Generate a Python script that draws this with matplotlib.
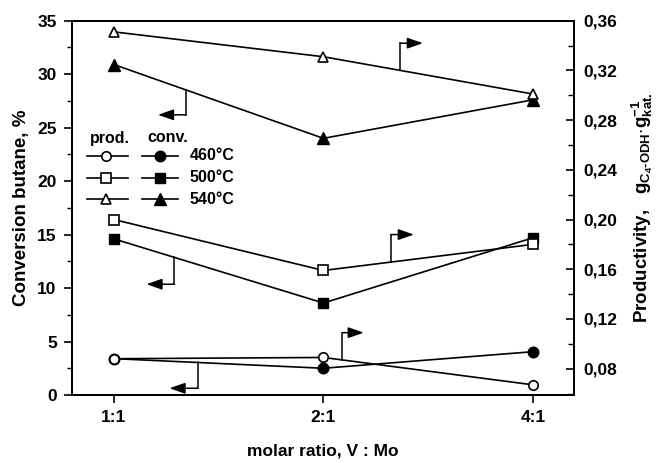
import matplotlib
matplotlib.use("Agg")
import numpy as np
import matplotlib.pyplot as plt
from matplotlib.lines import Line2D
from matplotlib.ticker import MultipleLocator, FuncFormatter

plt.rcParams['font.family'] = ['Liberation Sans', 'DejaVu Sans']
plt.rcParams['font.weight'] = 'bold'
plt.rcParams['mathtext.fontset'] = 'custom'
plt.rcParams['mathtext.rm'] = 'Liberation Sans:bold'
plt.rcParams['mathtext.it'] = 'Liberation Sans:bold'
plt.rcParams['mathtext.bf'] = 'Liberation Sans:bold'

categories = ['1:1', '2:1', '4:1']
temps = ['460°C', '500°C', '540°C']
markers = ['o', 's', '^']

conv_460 = [3.4, 2.5, 4.05]
conv_500 = [14.6, 8.6, 14.7]
conv_540 = [30.9, 24.0, 27.6]

prod_460 = [0.088, 0.089, 0.067]
prod_500 = [0.200, 0.159, 0.180]
prod_540 = [0.351, 0.331, 0.301]

conv = [conv_460, conv_500, conv_540]
prod = [prod_460, prod_500, prod_540]

LEFT_LIM = (0, 35)
RIGHT_LIM = (0.0588, 0.36)

# bracket arrows: (series index, which axis, base x, corner y [left units], tip x)
arrows = [
    (2, 'prod', 1.365, 32.9, 1.475),
    (2, 'conv', 0.345, 26.2, 0.210),
    (1, 'prod', 1.322, 15.0, 1.432),
    (1, 'conv', 0.289, 10.36, 0.155),
    (0, 'prod', 1.091, 5.83, 1.193),
    (0, 'conv', 0.401, 0.63, 0.265),
]

fig = plt.figure(figsize=(6.66, 4.63), dpi=100)
ax = fig.add_axes([72/666, 1-395/463, 502/666, 374.3/463])
ax2 = ax.twinx()

x = np.arange(len(categories))
ms_open = {'o': 6.8, 's': 7.0, '^': 7.6}
ms_fill = {'o': 7.6, 's': 7.6, '^': 8.6}
for c, p, m in zip(conv, prod, markers):
    ax.plot(x, c, color='black', lw=1.2, marker=m, ms=ms_fill[m], mfc='black', mec='black', zorder=3)
    ax2.plot(x, p, color='black', lw=1.2, marker=m, ms=ms_open[m], mfc='white', mec='black', mew=1.2, zorder=4)

ax.set_xlim(-0.2, 2.196)
ax.set_ylim(*LEFT_LIM)
ax2.set_ylim(*RIGHT_LIM)

ax.set_xticks(x)
ax.set_xticklabels(categories)
ax.yaxis.set_major_locator(MultipleLocator(5))
ax.yaxis.set_minor_locator(MultipleLocator(2.5))
ax2.set_yticks([0.08, 0.12, 0.16, 0.20, 0.24, 0.28, 0.32, 0.36])
ax2.yaxis.set_minor_locator(MultipleLocator(0.02))
ax2.yaxis.set_major_formatter(FuncFormatter(lambda v, pos: f"{v:.2f}".replace('.', ',')))

ax.tick_params(axis='both', labelsize=12.5, width=1.2, length=6, direction='out', pad=5)
ax.tick_params(axis='y', which='minor', width=1.0, length=3.5, direction='out')
ax.tick_params(axis='x', which='both', top=False)
ax2.tick_params(axis='y', labelsize=12.5, width=1.2, length=6, direction='in', pad=7)
ax2.tick_params(axis='y', which='minor', width=1.0, length=4, direction='in')
for a in (ax, ax2):
    for s in a.spines.values():
        s.set_linewidth(1.4)

ax.set_xlabel('molar ratio, V : Mo', fontsize=12.5, fontweight='bold', labelpad=13)
ax.set_ylabel('Conversion butane, %', fontsize=13.5, fontweight='bold', labelpad=5)
ax2.set_ylabel(r'Productivity,   g$_{\mathregular{C_4 \text{-} ODH}}$$\cdot$g$^{-1}_{\mathregular{kat.}}$',
               fontsize=13.5, fontweight='bold', labelpad=9)


def prod_to_left(v):
    return (v - RIGHT_LIM[0]) / (RIGHT_LIM[1] - RIGHT_LIM[0]) * (LEFT_LIM[1] - LEFT_LIM[0]) + LEFT_LIM[0]


# bracket arrows
for idx, kind, bx, cy, tx in arrows:
    if kind == 'prod':
        by = prod_to_left(np.interp(bx, x, prod[idx]))
    else:
        by = np.interp(bx, x, conv[idx])
    ax.plot([bx, bx], [by, cy], color='black', lw=1.1, zorder=2)
    ax.annotate('', xy=(tx, cy), xytext=(bx, cy),
                arrowprops=dict(arrowstyle='-|>,head_length=0.95,head_width=0.33',
                                color='black', lw=1.1, shrinkA=0, shrinkB=0))


# manual legend in axes fraction
def fx(px):
    return (px - 72) / (574 - 72)


def fy(py):
    return (395 - py) / (395 - 20.7)


ax.text(fx(90), fy(138), 'prod.', transform=ax.transAxes, fontsize=11.5, fontweight='bold', va='center', ha='left')
ax.text(fx(147), fy(138), 'conv.', transform=ax.transAxes, fontsize=11.5, fontweight='bold', va='center', ha='left')
rows = [156, 178, 199]
for t, m, ry in zip(temps, markers, rows):
    ax.add_line(Line2D([fx(87), fx(128)], [fy(ry), fy(ry)], transform=ax.transAxes, color='black', lw=1.2))
    ax.add_line(Line2D([fx(106)], [fy(ry)], transform=ax.transAxes, marker=m, ms=ms_open[m],
                       mfc='white', mec='black', mew=1.2, lw=0))
    ax.add_line(Line2D([fx(142), fx(178)], [fy(ry), fy(ry)], transform=ax.transAxes, color='black', lw=1.2))
    ax.add_line(Line2D([fx(160)], [fy(ry)], transform=ax.transAxes, marker=m, ms=ms_fill[m],
                       mfc='black', mec='black', lw=0))
    ax.text(fx(190), fy(ry), t, transform=ax.transAxes, fontsize=11.5, fontweight='bold', va='center', ha='left')

fig.savefig('out.png', dpi=100)
